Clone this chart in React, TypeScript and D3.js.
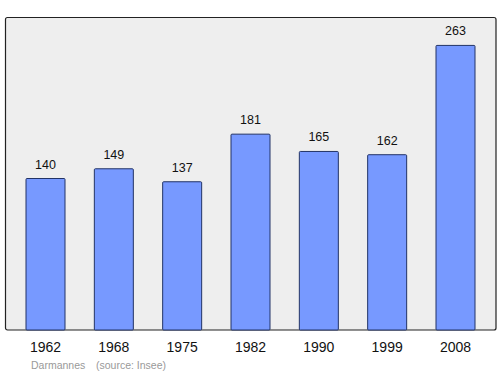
import React from "react";
import * as d3 from "d3";

const years = ["1962", "1968", "1975", "1982", "1990", "1999", "2008"];
const population = [140, 149, 137, 181, 165, 162, 263];
const commune = "Darmannes";
const source = "(source: Insee)";

export default function App() {
  const W = 500, H = 374;
  const plot = { left: 5.5, top: 17.5, right: 496, bottom: 330 };
  const x = d3.scalePoint<string>().domain(years).range([45.5, 455.5]);
  const y = d3.scaleLinear().domain([0, 288.8]).range([plot.bottom, plot.top]);
  const bw = 39;
  return (
    <svg width={W} height={H} style={{ position: "absolute", left: 0, top: 0 }}
      fontFamily="'Liberation Sans', Arial, sans-serif">
      <rect x={plot.left} y={plot.top} width={plot.right - plot.left} height={plot.bottom - plot.top}
        fill="#eeeeee" stroke="#222" strokeWidth={1.2} rx={2} />
      {years.map((yr, i) => {
        const cx = x(yr)!;
        const top = y(population[i]);
        return (
          <g key={yr}>
            <rect x={cx - bw / 2} y={top} width={bw} height={plot.bottom - top}
              fill="#7799ff" stroke="#223366" strokeWidth={1} rx={1} />
            <text x={cx} y={top - 10} textAnchor="middle" fontSize={12.5} fill="#111">{population[i]}</text>
            <text x={cx} y={352} textAnchor="middle" fontSize={14} fill="#111">{yr}</text>
          </g>
        );
      })}
      <text x={31} y={369} fontSize={10.5} fill="#999">{commune}</text>
      <text x={96} y={369} fontSize={10.5} fill="#999">{source}</text>
    </svg>
  );
}
